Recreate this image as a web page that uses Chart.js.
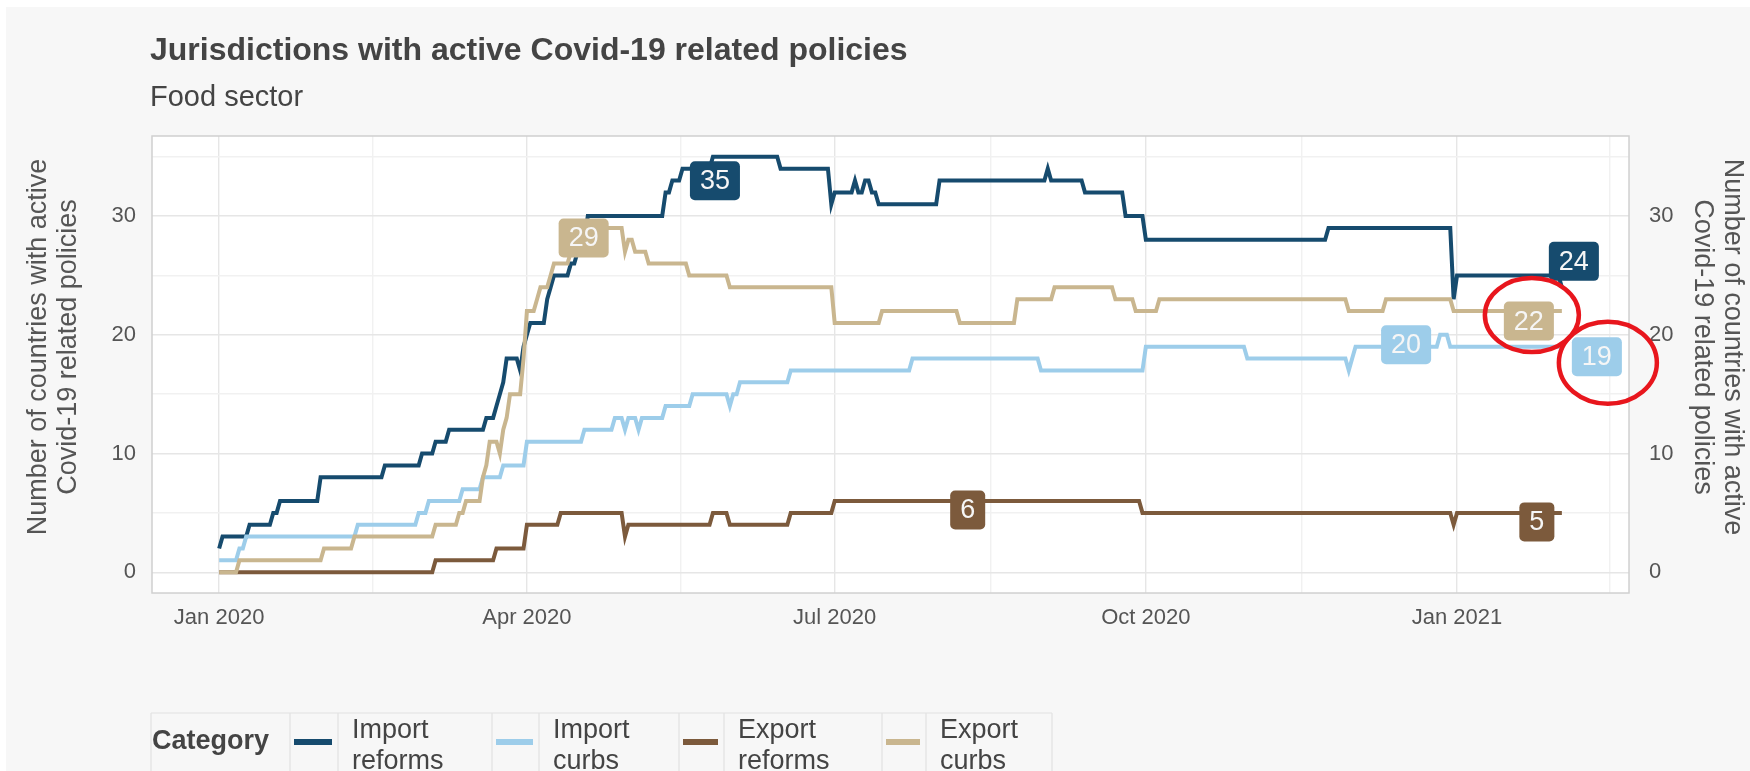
<!DOCTYPE html>
<html>
<head>
<meta charset="utf-8">
<title>Jurisdictions with active Covid-19 related policies</title>
<script src="https://cdn.jsdelivr.net/npm/chart.js@4.4.1/dist/chart.umd.min.js"></script>
<style>
  html, body { margin: 0; padding: 0; background: #f7f7f7; }
  canvas { display: block; }
</style>
</head>
<body>
<canvas id="policyChart" width="1750" height="771"></canvas>
<script>
// days are counted from 1 Jan 2020; each day marks a change in the count
var importReformsDays   = [0, 1, 9, 16, 18, 30, 49, 60, 64, 68, 79, 82, 83, 84, 85, 89, 90, 91, 92, 97, 98, 99, 104, 106, 107, 109, 132, 134, 137, 146, 166, 181, 182, 188, 189, 191, 193, 195, 213, 245, 246, 256, 268, 274, 328, 365, 366, 397];
var importReformsValues = [2, 3, 4, 5, 6, 8, 9, 10, 11, 12, 13, 14, 15, 16, 18, 17, 19, 20, 21, 23, 24, 25, 26, 27, 28, 30, 32, 33, 34, 35, 34, 31, 32, 33, 32, 33, 32, 31, 33, 34, 33, 32, 30, 28, 29, 23, 25, 24];

var importCurbsDays   = [0, 6, 8, 41, 59, 62, 72, 78, 84, 91, 108, 117, 120, 121, 124, 125, 132, 140, 151, 152, 154, 169, 205, 243, 274, 304, 334, 335, 336, 361, 364];
var importCurbsValues = [1, 2, 3, 4, 5, 6, 7, 8, 9, 11, 12, 13, 12, 13, 12, 13, 14, 15, 14, 15, 16, 17, 18, 17, 19, 18, 17, 18, 19, 20, 19];

var exportReformsDays   = [0, 64, 82, 91, 101, 120, 121, 146, 151, 169, 182, 273, 365, 366];
var exportReformsValues = [0, 1, 2, 4, 5, 3, 4, 5, 4, 5, 6, 5, 4, 5];

var exportCurbsDays   = [0, 6, 31, 40, 64, 71, 73, 78, 79, 80, 83, 84, 85, 86, 90, 91, 94, 95, 98, 99, 104, 106, 120, 121, 123, 127, 139, 151, 182, 196, 219, 236, 247, 265, 271, 278, 334, 345, 365];
var exportCurbsValues = [0, 1, 2, 3, 4, 5, 6, 8, 9, 11, 10, 12, 13, 15, 18, 22, 23, 24, 25, 26, 27, 29, 27, 28, 27, 26, 25, 24, 21, 22, 21, 23, 24, 23, 22, 23, 22, 23, 22];

var lastDay = 397; // 1 Feb 2021

var categories = ["Import reforms", "Import curbs", "Export reforms", "Export curbs"];
var colors = ["#164b6e", "#9dcdea", "#7c5a3c", "#c9b68f"];

var xTickDays   = [0, 45.5, 91, 136.5, 182, 228, 274, 320, 366, 411];
var xTickLabels = ["Jan 2020", "", "Apr 2020", "", "Jul 2020", "", "Oct 2020", "", "Jan 2021", ""];
var yTickValues = [0, 5, 10, 15, 20, 25, 30, 35];
var yTickLabels = ["0", "", "10", "", "20", "", "30", ""];

var seriesDays = [importReformsDays, importCurbsDays, exportReformsDays, exportCurbsDays];
var seriesValues = [importReformsValues, importCurbsValues, exportReformsValues, exportCurbsValues];

var fontFamily = '"Liberation Sans", Arial, Helvetica, sans-serif';
var majorGrid = "#e6e6e6";
var minorGrid = "#f1f1f1";

// pixel nudges for the max / last value labels
var labelNudges = [
  { max: [2, 24],   last: [12, -26] },
  { max: [-34, 10], last: [35, 10] },
  { max: [133, 9],  last: [-25, 9] },
  { max: [6, 10],   last: [-33, 10] }
];
var highlightRings = [
  { series: 3, dx: 3, dy: -6, rx: 47, ry: 37 },
  { series: 1, dx: 11, dy: 6, rx: 49, ry: 41 }
];

function stepPoints(days, values) {
  var pts = [{ x: days[0], y: values[0] }];
  for (var i = 1; i < days.length; i++) {
    if (days[i] - 1 > days[i - 1]) pts.push({ x: days[i] - 1, y: values[i - 1] });
    pts.push({ x: days[i], y: values[i] });
  }
  if (lastDay > days[days.length - 1]) pts.push({ x: lastDay, y: values[values.length - 1] });
  return pts;
}

function labelSpots(chart, i) {
  var xs = chart.scales.x, ys = chart.scales.y;
  var vals = seriesValues[i], days = seriesDays[i];
  var maxV = Math.max.apply(null, vals);
  var maxDay = days[vals.indexOf(maxV)];
  var lastV = vals[vals.length - 1];
  return [
    { text: String(maxV), x: xs.getPixelForValue(maxDay) + labelNudges[i].max[0], y: ys.getPixelForValue(maxV) + labelNudges[i].max[1] },
    { text: String(lastV), x: xs.getPixelForValue(lastDay) + labelNudges[i].last[0], y: ys.getPixelForValue(lastV) + labelNudges[i].last[1] }
  ];
}

var backdrop = {
  id: "backdrop",
  beforeDraw: function(chart) {
    var ctx = chart.ctx, a = chart.chartArea;
    ctx.save();
    ctx.fillStyle = "#f7f7f7";
    ctx.fillRect(0, 0, chart.width, chart.height);
    ctx.fillStyle = "#ffffff";
    ctx.fillRect(0, 0, chart.width, 7);
    ctx.fillRect(0, 0, 6, chart.height);
    ctx.fillRect(a.left, a.top, a.right - a.left, a.bottom - a.top);
    ctx.restore();
  }
};

var annotations = {
  id: "annotations",
  afterDatasetsDraw: function(chart) {
    var ctx = chart.ctx, a = chart.chartArea;
    ctx.save();
    ctx.strokeStyle = "#d0d0d0";
    ctx.lineWidth = 1.5;
    ctx.strokeRect(a.left, a.top, a.right - a.left, a.bottom - a.top);

    ctx.font = "27px " + fontFamily;
    ctx.textAlign = "center";
    ctx.textBaseline = "middle";
    categories.forEach(function(name, i) {
      labelSpots(chart, i).forEach(function(l) {
        var w = ctx.measureText(l.text).width + 20, h = 39;
        ctx.fillStyle = colors[i];
        ctx.beginPath();
        ctx.roundRect(l.x - w / 2, l.y - h / 2, w, h, 5);
        ctx.fill();
        ctx.fillStyle = "#f6f6f6";
        ctx.fillText(l.text, l.x, l.y + 1);
      });
    });

    ctx.strokeStyle = "#e8161d";
    ctx.lineWidth = 4.5;
    highlightRings.forEach(function(r) {
      var spot = labelSpots(chart, r.series)[1];
      ctx.beginPath();
      ctx.ellipse(spot.x + r.dx, spot.y + r.dy, r.rx, r.ry, 0, 0, Math.PI * 2);
      ctx.stroke();
    });
    ctx.restore();
  },
  afterDraw: function(chart) {
    var ctx = chart.ctx;
    ctx.save();
    ctx.fillStyle = "#444444";
    ctx.textBaseline = "alphabetic";
    ctx.textAlign = "left";
    ctx.font = "bold 32px " + fontFamily;
    ctx.fillText("Jurisdictions with active Covid-19 related policies", 150, 60);
    ctx.font = "29px " + fontFamily;
    ctx.fillText("Food sector", 150, 106);

    // axis titles
    ctx.fillStyle = "#555555";
    ctx.font = "27px " + fontFamily;
    ctx.textAlign = "center";
    ctx.textBaseline = "middle";
    var axisLines = ["Number of countries with active", "Covid-19 related policies"];
    ctx.save();
    ctx.translate(0, 347);
    ctx.rotate(-Math.PI / 2);
    ctx.fillText(axisLines[0], 0, 39);
    ctx.fillText(axisLines[1], 0, 69);
    ctx.restore();
    ctx.save();
    ctx.translate(chart.width, 347);
    ctx.rotate(Math.PI / 2);
    ctx.fillText(axisLines[0], 0, 18);
    ctx.fillText(axisLines[1], 0, 48);
    ctx.restore();

    // legend table
    var top = 713, mid = 742;
    var seps = [151, 290, 338, 492, 539, 679, 724, 882, 926, 1052];
    ctx.strokeStyle = "#e2e2e2";
    ctx.lineWidth = 1.2;
    ctx.beginPath();
    ctx.moveTo(seps[0], top);
    ctx.lineTo(seps[seps.length - 1], top);
    seps.forEach(function(s) { ctx.moveTo(s, top); ctx.lineTo(s, chart.height); });
    ctx.stroke();
    ctx.fillStyle = "#444444";
    ctx.textAlign = "left";
    ctx.font = "bold 27px " + fontFamily;
    ctx.fillText("Category", 152, mid);
    ctx.font = "27px " + fontFamily;
    ctx.textBaseline = "alphabetic";
    categories.forEach(function(name, i) {
      var k0 = seps[1 + 2 * i], t0 = seps[2 + 2 * i];
      ctx.strokeStyle = colors[i];
      ctx.lineWidth = 6;
      ctx.beginPath();
      ctx.moveTo(k0 + 4, mid);
      ctx.lineTo(t0 - 6, mid);
      ctx.stroke();
      var words = name.split(" ");
      ctx.fillStyle = "#444444";
      ctx.fillText(words[0], t0 + 14, 738);
      ctx.fillText(words[1], t0 + 14, 769);
    });
    ctx.restore();
  }
};

var datasets = categories.map(function(name, i) {
  return {
    label: name,
    data: stepPoints(seriesDays[i], seriesValues[i]),
    borderColor: colors[i],
    backgroundColor: colors[i],
    borderWidth: 4,
    pointRadius: 0,
    tension: 0,
    order: 4 - i,
    yAxisID: "y"
  };
});

var tickFont = { family: fontFamily, size: 22 };

new Chart(document.getElementById("policyChart"), {
  type: "line",
  data: { datasets: datasets },
  plugins: [backdrop, annotations],
  options: {
    responsive: false,
    devicePixelRatio: 1,
    animation: false,
    layout: { padding: { left: 0, right: 0, top: 136, bottom: 0 } },
    plugins: { legend: { display: false }, tooltip: { enabled: false }, title: { display: false } },
    scales: {
      x: {
        type: "linear",
        min: -19.85,
        max: 416.85,
        afterBuildTicks: function(s) { s.ticks = xTickDays.map(function(v) { return { value: v }; }); },
        afterFit: function(s) { s.height = 178; },
        ticks: {
          autoSkip: false, maxRotation: 0, padding: 12, color: "#555555", font: tickFont,
          callback: function(v, i) { return xTickLabels[i]; }
        },
        grid: {
          drawTicks: false, lineWidth: 1.4,
          color: function(c) { return xTickLabels[c.index] === "" ? minorGrid : majorGrid; }
        },
        border: { display: false }
      },
      y: {
        type: "linear",
        position: "left",
        min: -1.75,
        max: 36.75,
        afterBuildTicks: function(s) { s.ticks = yTickValues.map(function(v) { return { value: v }; }); },
        afterFit: function(s) { s.width = 152; },
        ticks: {
          padding: 16, color: "#555555", font: tickFont,
          callback: function(v, i) { return yTickLabels[i]; }
        },
        grid: {
          drawTicks: false, lineWidth: 1.4,
          color: function(c) { return yTickLabels[c.index] === "" ? minorGrid : majorGrid; }
        },
        border: { display: false }
      },
      y2: {
        type: "linear",
        position: "right",
        min: -1.75,
        max: 36.75,
        afterBuildTicks: function(s) { s.ticks = yTickValues.map(function(v) { return { value: v }; }); },
        afterFit: function(s) { s.width = 121; },
        ticks: {
          padding: 20, color: "#555555", font: tickFont,
          callback: function(v, i) { return yTickLabels[i]; }
        },
        grid: { display: false, drawTicks: false },
        border: { display: false }
      }
    }
  }
});
</script>
</body>
</html>
